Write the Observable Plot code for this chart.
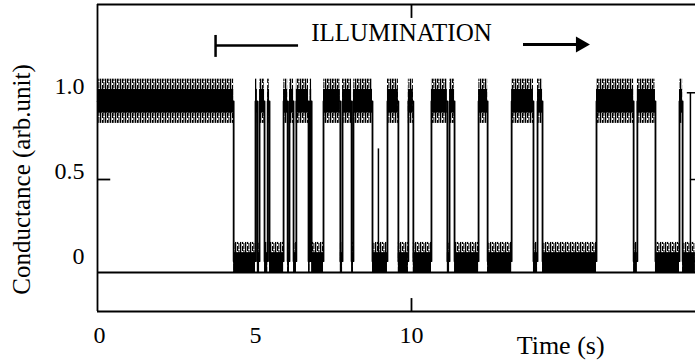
<!DOCTYPE html>
<html>
<head>
<meta charset="utf-8">
<script src="https://cdn.jsdelivr.net/npm/d3@7"></script>
<script src="https://cdn.jsdelivr.net/npm/@observablehq/plot@0.6"></script>
<style>
  html, body { margin: 0; padding: 0; background: #fff; }
  #chart svg { display: block; }
</style>
</head>
<body>
<div id="chart"></div>
<script>
// ---- data (time in s, conductance in arb. unit) ----
const segStart = [-0.06, 4.30, 5.00, 5.06, 5.13, 5.29, 5.39, 5.45, 5.90, 6.03, 6.09, 6.22, 6.31, 6.70,
  6.75, 6.80, 7.18, 7.72, 7.79, 8.08, 8.14, 8.75, 9.23, 9.58, 9.90, 10.06, 10.64, 11.15, 11.22, 11.38,
  12.15, 12.44, 13.21, 13.91, 14.04, 14.20, 15.93, 17.12, 17.24, 17.82, 18.59, 18.69];
const segLevel = [1, 0, 1, 0, 1, 0, 1, 0, 1, 0, 1, 0, 1, 0, 1, 0, 1, 0, 1, 0, 1, 0, 1, 0, 1, 0, 1, 0, 1, 0,
  1, 0, 1, 0, 1, 0, 1, 0, 1, 0, 1, 0];
const traceEnd = 19.10;
// noise envelopes of the two states [bottom, top]
const highCore = [0.89, 1.03];
const highOuter = [0.83, 1.09];
const lowCore = [-0.047, 0.07];
const lowOuter = [-0.047, 0.13];
const levelMid = [0.02, 0.96];
// incomplete upward spike
const spikeTime = [8.94];
const spikePeak = [0.68];
const baseline = -0.047;
const xTicks = [0, 5, 10];
const xTickLabels = ["0", "5", "10"];
const yTicks = [0, 0.5, 1];
const yTickLabels = ["0", "0.5", "1.0"];

const xDomain = [-0.064, 19.103];
const yDomain = [-0.276, 1.529];

const segs = segStart.map((s, i) => ({
  t0: s,
  t1: i + 1 < segStart.length ? segStart[i + 1] : traceEnd,
  level: segLevel[i]
}));
segs.forEach(d => {
  const core = d.level ? highCore : lowCore;
  const outer = d.level ? highOuter : lowOuter;
  d.c0 = core[0]; d.c1 = core[1]; d.o0 = outer[0]; d.o1 = outer[1];
});
const stepPts = segs.map(d => ({t: d.t0, v: levelMid[d.level]}));
stepPts.push({t: traceEnd, v: levelMid[segs[segs.length - 1].level]});
const spikes = spikeTime.map((t, i) => ({t, peak: spikePeak[i]}));

const font = "Liberation Serif, Times New Roman, serif";

const chart = Plot.plot({
  width: 695,
  height: 362,
  marginLeft: 97,
  marginRight: 0,
  marginTop: 4,
  marginBottom: 51,
  style: {fontFamily: font, background: "#fff", color: "#000"},
  x: {domain: xDomain, axis: null},
  y: {domain: yDomain, axis: null},
  marks: [
    // noise bands (outer envelope hatched, dense core solid)
    Plot.rect(segs, {x1: "t0", x2: "t1", y1: "o0", y2: "o1", fill: "url(#noiseHatch)"}),
    Plot.rect(segs, {x1: "t0", x2: "t1", y1: "c0", y2: "c1", fill: "#000"}),
    // transitions
    Plot.line(stepPts, {x: "t", y: "v", curve: "step-after", stroke: "#000", strokeWidth: 1.8}),
    Plot.ruleX(spikes, {x: "t", y1: levelMid[0], y2: "peak", stroke: "#000", strokeWidth: 1.5}),
    // frame lines
    Plot.ruleY([yDomain[1]], {stroke: "#000", strokeWidth: 1.8}),
    Plot.ruleY([yDomain[0]], {stroke: "#000", strokeWidth: 1.8}),
    Plot.ruleX([xDomain[0]], {stroke: "#000", strokeWidth: 1.8}),
    Plot.ruleY([baseline], {stroke: "#000", strokeWidth: 2}),
    // inward tick marks
    Plot.ruleY([0.5], {x1: xDomain[0], x2: 0.36, stroke: "#000", strokeWidth: 1.8}),
    Plot.ruleX([10], {y1: yDomain[1], y2: 1.447, stroke: "#000", strokeWidth: 1.8}),
    Plot.ruleX([10], {y1: yDomain[0], y2: -0.2, stroke: "#000", strokeWidth: 1.8}),
    // right-hand scale bar
    Plot.ruleX([18.94], {y1: baseline, y2: 1.01, stroke: "#000", strokeWidth: 1.5}),
    Plot.ruleY([1.01], {x1: 18.84, x2: xDomain[1], stroke: "#000", strokeWidth: 1.5}),
    Plot.ruleY([0.5], {x1: 18.94, x2: xDomain[1], stroke: "#000", strokeWidth: 1.5}),
    // tick labels
    Plot.text(xTicks, {x: d => d, y: yDomain[0], dy: 24, text: (d, i) => xTickLabels[i],
      fontSize: 24, fill: "#000"}),
    Plot.text(yTicks, {x: xDomain[0], y: d => d, dx: -13, dy: -8, text: (d, i) => yTickLabels[i],
      textAnchor: "end", fontSize: 24, fill: "#000"}),
    // axis titles
    Plot.text(["Time (s)"], {x: 14.78, y: yDomain[0], dy: 34, fontSize: 26, fill: "#000"}),
    Plot.text(["Conductance (arb.unit)"], {x: xDomain[0], y: 0.5, dx: -76, rotate: -90,
      fontSize: 25, fill: "#000"}),
    // illumination annotation
    Plot.text(["ILLUMINATION"], {x: 9.68, y: 1.36, fontSize: 25, fill: "#000"}),
    Plot.ruleX([3.72], {y1: 1.218, y2: 1.347, stroke: "#000", strokeWidth: 2.5}),
    Plot.ruleY([1.288], {x1: 3.72, x2: 6.38, stroke: "#000", strokeWidth: 2.5}),
    Plot.ruleY([1.294], {x1: 13.59, x2: 15.3, stroke: "#000", strokeWidth: 3}),
    Plot.dot([{t: 15.42, v: 1.294}], {x: "t", y: "v", symbol: "triangle", rotate: 90, r: 6,
      fill: "#000", stroke: null})
  ]
});
// hatch pattern giving the noisy envelope a scribbled texture
const ns = "http://www.w3.org/2000/svg";
const defs = document.createElementNS(ns, "defs");
const pat = document.createElementNS(ns, "pattern");
pat.setAttribute("id", "noiseHatch");
pat.setAttribute("patternUnits", "userSpaceOnUse");
pat.setAttribute("width", "5");
pat.setAttribute("height", "7");
[[0, 0, 1.3, 7], [2, 1, 1.2, 5], [3.4, 0, 1, 4], [3.4, 5, 1, 2]].forEach(([x, y, w, h]) => {
  const r = document.createElementNS(ns, "rect");
  r.setAttribute("x", x); r.setAttribute("y", y);
  r.setAttribute("width", w); r.setAttribute("height", h);
  r.setAttribute("fill", "#000");
  pat.appendChild(r);
});
defs.appendChild(pat);
chart.insertBefore(defs, chart.firstChild);
document.getElementById("chart").appendChild(chart);
</script>
</body>
</html>
